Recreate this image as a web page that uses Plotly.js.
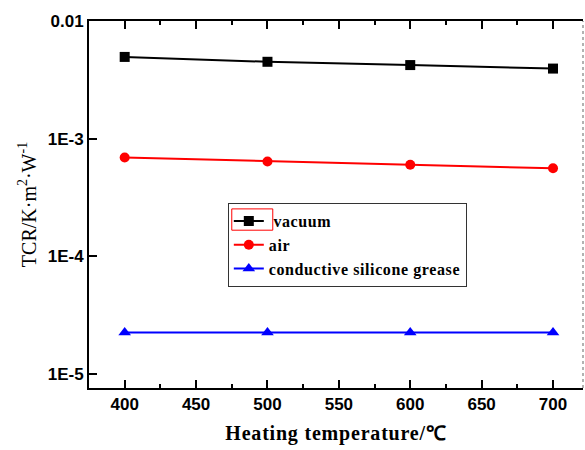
<!DOCTYPE html>
<html>
<head>
<meta charset="utf-8">
<script src="https://cdn.plot.ly/plotly-3.0.1.min.js"></script>
<style>
  html, body { margin: 0; padding: 0; background: #fff; }
  #chart { width: 585px; height: 450px; }
  .legendtext { letter-spacing: 0.6px; }
  .xtitle { letter-spacing: 0.8px; }
</style>
</head>
<body>
<div id="chart"></div>
<script>
// Heating temperature (°C)
const temperature = [400, 500, 600, 700];

// Thermal contact resistance, K·m²·W⁻¹
const tcrVacuum = [4.95e-3, 4.50e-3, 4.22e-3, 3.94e-3];
const tcrAir = [6.9e-4, 6.4e-4, 6.0e-4, 5.6e-4];
const tcrGrease = [2.25e-5, 2.25e-5, 2.25e-5, 2.25e-5];

// Y tick values and labels
const yTickVals = [1e-5, 1e-4, 1e-3, 1e-2];
const yTickText = ['1E-5', '1E-4', '1E-3', '0.01'];

// minor ticks at 2..9 within each decade
const yMinorVals = [];
[1e-6, 1e-5, 1e-4, 1e-3].forEach(d => {
  for (let k = 2; k <= 9; k++) yMinorVals.push(k * d);
});

const yRange = [-5.12, -2];
const tickFont = { family: 'Liberation Sans, Arial, sans-serif', size: 17, color: '#000', weight: 'bold' };
const serif = 'Liberation Serif, Times New Roman, serif';

const traces = [
  {
    x: temperature, y: tcrVacuum, name: ' vacuum', type: 'scatter', mode: 'lines+markers',
    line: { color: '#000', width: 2 },
    marker: { symbol: 'square', size: 10, color: '#000' }
  },
  {
    x: temperature, y: tcrAir, name: 'air', type: 'scatter', mode: 'lines+markers',
    line: { color: '#ff0000', width: 2 },
    marker: { symbol: 'circle', size: 10, color: '#ff0000' }
  },
  {
    x: temperature, y: tcrGrease, name: 'conductive silicone grease', type: 'scatter', mode: 'lines+markers',
    line: { color: '#0000ff', width: 2 },
    marker: { symbol: 'triangle-up', size: 11, color: '#0000ff' }
  }
];

const layout = {
  width: 585,
  height: 450,
  margin: { l: 89, r: 2, t: 21, b: 62 },
  paper_bgcolor: '#fff',
  plot_bgcolor: '#fff',
  showlegend: true,
  xaxis: {
    range: [375, 721],
    tickmode: 'array', tickvals: [400, 450, 500, 550, 600, 650, 700],
    ticks: 'inside', ticklen: 8, tickwidth: 2, tickcolor: '#000',
    minor: { ticks: 'inside', ticklen: 4, tickwidth: 2, tickcolor: '#000',
             tickvals: [425, 475, 525, 575, 625, 675], showgrid: false },
    showline: true, linewidth: 2, linecolor: '#000', mirror: 'allticks',
    showgrid: false, zeroline: false,
    tickfont: tickFont,
    title: { text: 'Heating temperature/℃', font: { family: serif, size: 20, color: '#000', weight: 'bold' }, standoff: 13 }
  },
  yaxis: {
    type: 'log',
    range: yRange,
    tickmode: 'array', tickvals: yTickVals, ticktext: yTickText,
    ticks: 'inside', ticklen: 8, tickwidth: 2, tickcolor: '#000',
    showline: true, linewidth: 2, linecolor: '#000', mirror: false,
    showgrid: false, zeroline: false,
    tickfont: tickFont,
    title: { text: 'TCR/K·m<sup>2</sup>·W<sup>-1</sup>', font: { family: serif, size: 20, color: '#000' }, standoff: 6 }
  },
  // minor ticks along the left edge
  yaxis2: {
    type: 'log', range: yRange, overlaying: 'y', side: 'left', anchor: 'x',
    tickmode: 'array', tickvals: yMinorVals,
    ticks: 'inside', ticklen: 5, tickwidth: 2, tickcolor: '#000',
    showticklabels: false, showline: false, showgrid: false, zeroline: false
  },
  // decade ticks along the right edge
  yaxis3: {
    type: 'log', range: yRange, overlaying: 'y', side: 'right', anchor: 'x',
    tickmode: 'array', tickvals: yTickVals,
    ticks: 'inside', ticklen: 4, tickwidth: 2, tickcolor: '#000',
    showticklabels: false, showline: false, showgrid: false, zeroline: false
  },
  legend: {
    x: 0.281, y: 0.504, xanchor: 'left', yanchor: 'top',
    bgcolor: 'rgba(0,0,0,0)', bordercolor: '#333', borderwidth: 1,
    font: { family: serif, size: 16, color: '#000', weight: 'bold' },
    tracegroupgap: 0
  },
  shapes: [
    // dotted right frame edge
    { type: 'line', xref: 'paper', yref: 'paper', x0: 1, x1: 1, y0: 0, y1: 1,
      line: { color: '#999', width: 1.5, dash: 'dot' } },
    // highlight frame around the first legend key
    { type: 'rect', xref: 'paper', yref: 'paper', x0: 0.289, x1: 0.372, y0: 0.43, y1: 0.488,
      line: { color: '#ff0000', width: 1 } }
  ]
};

Plotly.newPlot('chart', traces, layout, { staticPlot: true, displayModeBar: false });
</script>
</body>
</html>
